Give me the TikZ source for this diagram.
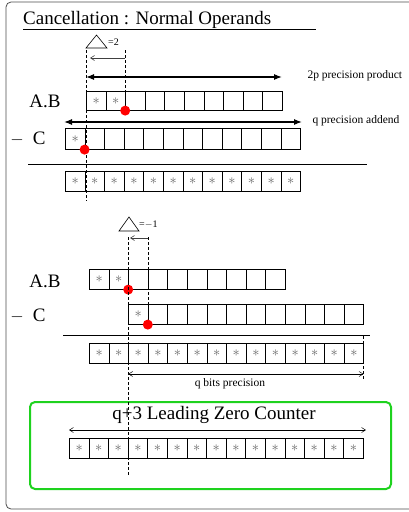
\documentclass[tikz,border=0pt]{standalone}
\usepackage{fontspec}
\setmainfont{Liberation Serif}
\usetikzlibrary{arrows.meta}
\definecolor{lzcgreen}{RGB}{30,210,30}
\newcommand{\cellstar}{\raisebox{0pt}{$\ast$}}
\begin{document}
\begin{tikzpicture}[x=1pt,y=-1pt,
 cell/.style={draw,line width=0.6pt,minimum width=19.6pt,minimum height=20pt,inner sep=0pt,anchor=north west,font=\fontsize{15}{15}\selectfont,text=black!60},
 dotred/.style={circle,fill=red,inner sep=0pt,minimum size=10pt},
 guide/.style={dash pattern=on 3pt off 2pt, line width=0.6pt},
 bigarrow/.style={{Latex[length=8pt,width=6pt]}-{Latex[length=8pt,width=6pt]}, line width=1.1pt},
 thinarrow/.style={{Straight Barb[length=4pt,width=5pt]}-{Straight Barb[length=4pt,width=5pt]}, line width=0.5pt},
 leftarrow/.style={-{Straight Barb[length=4pt,width=5pt]}, line width=0.6pt, black!75},
 tri/.style={line width=0.6pt, line join=miter},
 rowlbl/.style={font=\fontsize{19}{21}\selectfont},
 small/.style={font=\fontsize{11.5}{13}\selectfont},
 tinytxt/.style={font=\fontsize{10}{11}\selectfont, inner sep=0pt}
]
\useasboundingbox (0,0) rectangle (409,512);
% frame
\draw[rounded corners=5pt, line width=0.8pt, black!70] (6,2) rectangle (420,509);
% title
\node[anchor=base west, font=\fontsize{19}{21}\selectfont, inner sep=0pt] (title) at (23,24) {Cancellation : Normal Operands};
\coordinate (ul1) at (23,29);
\coordinate (ul2) at (316,29);
\draw[line width=0.7pt] (ul1) -- (ul2);

% ===== part 1 =====
\draw[tri] (86,48) -- (96.5,35) -- (107,48) -- cycle;
\node[tinytxt, anchor=west] (d1) at (108,42) {=2};

\foreach \i in {0,...,9}
  \node[cell, minimum height=19pt] (ab\i) at ({86+\i*19.6},91) {\ifnum\i<2 \cellstar\fi};
\node[rowlbl, anchor=center] (lab1) at (45,101) {A.B};

\foreach \i in {0,...,11}
  \node[cell, minimum height=21pt] (c\i) at ({65+\i*19.6},128) {\ifnum\i<1 \cellstar\fi};
\node[rowlbl, anchor=center] (lc1) at (28,139) {$-$\hspace{9pt}C};

\coordinate (hl1a) at (28,164);
\coordinate (hl1b) at (367,164);
\draw[line width=0.8pt] (hl1a) -- (hl1b);

\foreach \i in {0,...,11}
  \node[cell] (r\i) at ({65+\i*19.6},171) {\cellstar};

% guides
\coordinate (g1top) at (86,50);
\coordinate (g1bot) at (86,201);
\coordinate (g2top) at (125,50);
\coordinate (g2bot) at (125,100);
\draw[guide] (g1top) -- (g1bot);
\draw[guide] (g2top) -- (g2bot);

% small arrow
\coordinate (sa1) at (125,58);
\coordinate (sa2) at (90,58);
\draw[leftarrow] (sa1) -- (sa2);

% big arrows
\coordinate (pa1) at (86,77);
\coordinate (pa2) at (282,77);
\draw[bigarrow] (pa1) -- (pa2);
\node[small, anchor=west] (pl) at (304,76) {2p precision product};

\coordinate (qa1) at (64,122);
\coordinate (qa2) at (302,122);
\draw[bigarrow] (qa1) -- (qa2);
\node[small, anchor=west] (ql) at (309,121) {q precision addend};

\node[dotred] (rd1) at (ab2.south west) {};
\node[dotred] (rd2) at (c1.south west) {};

% ===== part 2 =====
\draw[tri] (119,231) -- (129,217) -- (139,231) -- cycle;
\node[tinytxt, anchor=west] (d2) at (139,225) {=$-$1};

\foreach \i in {0,...,9}
  \node[cell] (bb\i) at ({89+\i*19.6},269) {\ifnum\i<2 \cellstar\fi};
\node[rowlbl, anchor=center] (lab2) at (45,281) {A.B};

\foreach \i in {0,...,11}
  \node[cell] (cc\i) at ({128.2+\i*19.6},304) {\ifnum\i<1 \cellstar\fi};
\node[rowlbl, anchor=center] (lc2) at (28,316) {$-$\hspace{9pt}C};

\coordinate (hl2a) at (63,335);
\coordinate (hl2b) at (370,335);
\draw[line width=0.8pt] (hl2a) -- (hl2b);

\foreach \i in {0,...,13}
  \node[cell] (rr\i) at ({89+\i*19.6},343) {\cellstar};

\coordinate (g3top) at (128.2,237);
\coordinate (g3bot) at (128.2,475);
\coordinate (g4top) at (147.8,237);
\coordinate (g4bot) at (147.8,323);
\draw[guide] (g3top) -- (g3bot);
\draw[guide] (g4top) -- (g4bot);
\coordinate (g5top) at (363.5,336);
\coordinate (g5bot) at (363.5,380);
\draw[guide] (g5top) -- (g5bot);

\coordinate (sb1) at (147.8,238);
\coordinate (sb2) at (130,238);
\draw[leftarrow] (sb1) -- (sb2);

\coordinate (qb1) at (128.2,374);
\coordinate (qb2) at (363.5,374);
\draw[thinarrow] (qb1) -- (qb2);
\node[small, anchor=center] (qbl) at (230,384) {q bits precision};

\node[dotred] (rd3) at (bb2.south west) {};
\node[dotred] (rd4) at (cc1.south west) {};

% ===== LZC =====
\draw[lzcgreen, line width=2pt, rounded corners=5pt] (30,402) rectangle (391,489);
\node[font=\fontsize{19}{21}\selectfont, anchor=center] (lzc) at (214,415) {q+3 Leading Zero Counter};
\coordinate (la1) at (69,430);
\coordinate (la2) at (366,430);
\draw[thinarrow] (la1) -- (la2);
\foreach \i in {0,...,14}
  \node[cell] (z\i) at ({69+\i*19.6},438) {\cellstar};
\draw[guide] (g3top) -- (g3bot);
\end{tikzpicture}
\end{document}
